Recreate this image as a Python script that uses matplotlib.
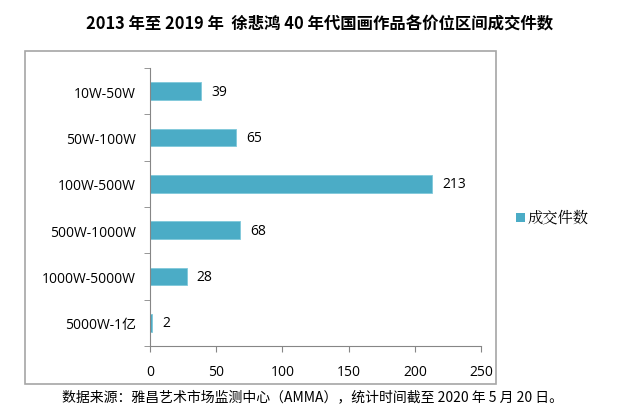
import matplotlib
matplotlib.use('Agg')
import matplotlib.pyplot as plt
from matplotlib.patches import Rectangle

plt.rcParams['font.family'] = ['Open Sans', 'Noto Sans CJK SC', 'DejaVu Sans']

categories = ['10W-50W', '50W-100W', '100W-500W', '500W-1000W', '1000W-5000W', '5000W-1亿']
counts = [39, 65, 213, 68, 28, 2]
xticks = [0, 50, 100, 150, 200, 250]

fig = plt.figure(figsize=(6.4, 4.14), dpi=100)

# outer chart frame
frame = Rectangle((0.039, 0.070), 0.736, 0.804, transform=fig.transFigure,
                  fill=False, edgecolor='#a6a6a6', linewidth=1.2)
fig.patches.append(frame)

ax = fig.add_axes([0.234, 0.162, 0.518, 0.671])
y = list(range(len(categories)))
ax.barh(y, counts, height=0.38, color='#4BACC6', edgecolor='#7fc8da', linewidth=0.6)
ax.set_ylim(len(categories) - 0.5, -0.5)
ax.set_xlim(0, 250)
ax.set_xticks(xticks)
ax.set_xticklabels([str(v) for v in xticks], fontsize=10)
ax.set_yticks(y)
ax.set_yticklabels(categories, fontsize=10)
ax.set_yticks([i - 0.5 for i in range(len(categories) + 1)], minor=True)
ax.tick_params(axis='y', which='major', length=0, pad=10)
ax.tick_params(axis='y', which='minor', length=4, color='#868686')
ax.tick_params(axis='x', length=4, color='#868686', pad=9)
for s in ['top', 'right']:
    ax.spines[s].set_visible(False)
for s in ['left', 'bottom']:
    ax.spines[s].set_color('#868686')

for yi, v in zip(y, counts):
    ax.text(v + 7.5, yi, str(v), va='center', ha='left', fontsize=10)

# legend
fig.patches.append(Rectangle((0.807, 0.462), 0.014, 0.022, transform=fig.transFigure,
                             facecolor='#4BACC6', edgecolor='none'))
fig.text(0.825, 0.472, '成交件数', fontsize=11, va='center', ha='left',
         family=['Noto Serif CJK SC', 'Noto Sans CJK SC'])

fig.text(0.5, 0.94, '2013 年至 2019 年  徐悲鸿 40 年代国画作品各价位区间成交件数',
         fontsize=11.8, fontweight='bold', ha='center', va='center',
         family=['Noto Sans CJK SC', 'DejaVu Sans'])
fig.text(0.488, 0.040, '数据来源：雅昌艺术市场监测中心（AMMA），统计时间截至 2020 年 5 月 20 日。',
         fontsize=10, ha='center', va='center', family=['Noto Sans CJK SC', 'DejaVu Sans'])

fig.savefig('out.png', dpi=100)
